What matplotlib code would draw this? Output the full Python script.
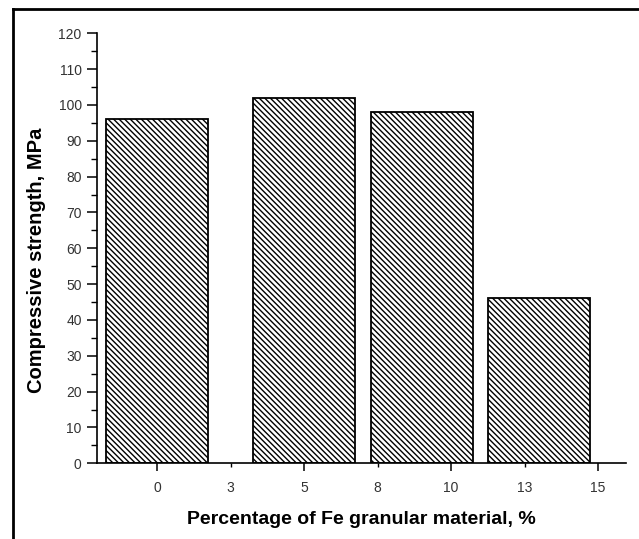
import matplotlib
matplotlib.use("Agg")
import matplotlib.pyplot as plt
from matplotlib.ticker import MultipleLocator, FixedLocator, FixedFormatter
from matplotlib.lines import Line2D

# Fe granular material content (%) shown on the category axis
tick_labels = ["0", "3", "5", "8", "10", "13", "15"]
# Bar positions on the category axis (index units) and compressive strength (MPa)
bar_positions = [0.0, 2.0, 3.6, 5.2]
strength = [96, 102, 98, 46]
bar_width = 1.39

plt.rcParams["font.family"] = ["Liberation Sans", "DejaVu Sans"]
plt.rcParams["hatch.linewidth"] = 1.0

fig = plt.figure(figsize=(6.39, 5.39), dpi=100)
ax = fig.add_axes([0.1518, 0.1404, 0.9797 - 0.1518, 0.9382 - 0.1404])

ax.bar(bar_positions, strength, width=bar_width, color="white",
       edgecolor="black", linewidth=1.3, hatch="\\" * 6)

ax.set_ylim(0, 120)
ax.set_xlim(-0.816, 6.38)

ax.yaxis.set_major_locator(MultipleLocator(10))
ax.yaxis.set_minor_locator(MultipleLocator(5))
ax.xaxis.set_major_locator(FixedLocator([0, 2, 4, 6]))
ax.xaxis.set_major_formatter(FixedFormatter([tick_labels[i] for i in (0, 2, 4, 6)]))
ax.xaxis.set_minor_locator(FixedLocator([1, 3, 5]))
ax.xaxis.set_minor_formatter(FixedFormatter([tick_labels[i] for i in (1, 3, 5)]))

for s in ("top", "right"):
    ax.spines[s].set_visible(False)
for s in ("left", "bottom"):
    ax.spines[s].set_linewidth(1.2)

ax.tick_params(axis="y", which="major", length=7, width=1.1, labelsize=10,
               labelcolor="#333333", pad=4)
ax.tick_params(axis="y", which="minor", length=4, width=1.0)
ax.tick_params(axis="x", which="major", length=6, width=1.1, labelsize=10,
               labelcolor="#333333", pad=7)
ax.tick_params(axis="x", which="minor", length=3, width=1.0, labelsize=10,
               labelcolor="#333333", pad=10)

ax.set_ylabel("Compressive strength, MPa", fontsize=14.5, fontweight="bold")
ax.yaxis.set_label_coords(-0.096, 0.4716)
ax.set_xlabel("Percentage of Fe granular material, %", fontsize=14,
              fontweight="bold", labelpad=11)

# Frame along the left and top of the figure
fig.add_artist(Line2D([13 / 639, 13 / 639], [0, 1 - 9 / 539],
                      transform=fig.transFigure, color="black", linewidth=2))
fig.add_artist(Line2D([13 / 639, 1], [1 - 9 / 539, 1 - 9 / 539],
                      transform=fig.transFigure, color="black", linewidth=2))

fig.savefig("out.png", dpi=100)
